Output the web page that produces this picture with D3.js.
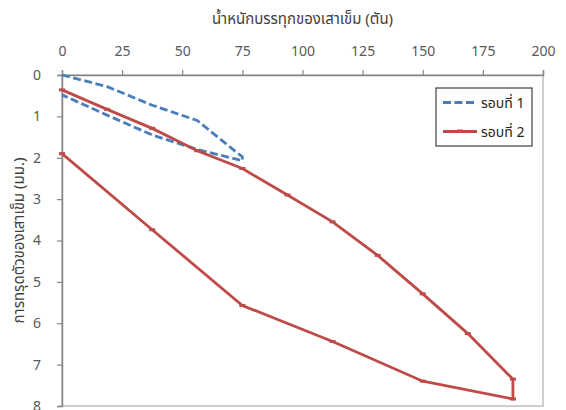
<!DOCTYPE html>
<html>
<head>
<meta charset="utf-8">
<script src="https://cdn.jsdelivr.net/npm/d3@7/dist/d3.min.js"></script>
<style>
  html, body { margin: 0; padding: 0; background: #fff; }
  svg { display: block; font-family: Tahoma, "Noto Sans Thai", "Noto Sans", "DejaVu Sans", sans-serif; }
</style>
</head>
<body>
<svg id="chart" width="566" height="410"></svg>
<script>
// Pile load test: load (tonnes) vs settlement (mm), two load cycles
const xTicks = [0, 25, 50, 75, 100, 125, 150, 175, 200];
const yTicks = [0, 1, 2, 3, 4, 5, 6, 7, 8];

const loadCycle1 = [0, 18.75, 37.5, 56.25, 75, 75, 56.25, 37.5, 18.75, 0];
const settleCycle1 = [0, 0.28, 0.73, 1.1, 1.98, 2.07, 1.8, 1.45, 0.97, 0.48];

const loadCycle2 = [0, 18.75, 37.5, 56.25, 75, 93.75, 112.5, 131.25, 150, 168.75, 187.5, 187.5, 150, 112.5, 75, 37.5, 0];
const settleCycle2 = [0.36, 0.83, 1.29, 1.83, 2.26, 2.9, 3.55, 4.36, 5.29, 6.25, 7.35, 7.83, 7.4, 6.44, 5.57, 3.74, 1.9];

const seriesNames = ["รอบที่ 1", "รอบที่ 2"];
const xTitle = "น้ำหนักบรรทุกของเสาเข็ม (ตัน)";
const yTitle = "การทรุดตัวของเสาเข็ม (มม.)";

const svg = d3.select("#chart");
const plot = { left: 62, right: 543, top: 75, bottom: 406 };

const x = d3.scaleLinear().domain([0, 200]).range([plot.left, plot.right]);
const y = d3.scaleLinear().domain([0, 8]).range([plot.top, plot.bottom]);

// plot-area frame
svg.append("rect")
  .attr("x", plot.left).attr("y", plot.top)
  .attr("width", plot.right - plot.left).attr("height", plot.bottom - plot.top)
  .attr("fill", "none").attr("stroke", "#bfbfbf").attr("stroke-width", 1.5);

// top x axis
const gx = svg.append("g")
  .attr("transform", `translate(0,${plot.top})`)
  .call(d3.axisTop(x).tickValues(xTicks).tickSize(5).tickPadding(14).tickFormat(d3.format("d")));

// left y axis (settlement increases downward)
const gy = svg.append("g")
  .attr("transform", `translate(${plot.left},0)`)
  .call(d3.axisLeft(y).tickValues(yTicks).tickSize(5).tickPadding(16).tickFormat(d3.format("d")));

[gx, gy].forEach(g => {
  g.select(".domain").attr("stroke", "#868686").attr("stroke-width", 1.5);
  g.selectAll(".tick line").attr("stroke", "#868686").attr("stroke-width", 1.2);
  g.selectAll(".tick text").attr("fill", "#595959").style("font-size", "14px")
    .style("font-family", "Tahoma, 'Noto Sans', 'DejaVu Sans', sans-serif");
});

// axis titles
svg.append("text")
  .attr("x", (plot.left + plot.right) / 2).attr("y", 24)
  .attr("text-anchor", "middle").attr("fill", "#404040").style("font-size", "15px")
  .text(xTitle);

svg.append("text")
  .attr("transform", `translate(24,${(plot.top + plot.bottom) / 2}) rotate(-90)`)
  .attr("text-anchor", "middle").attr("fill", "#404040").style("font-size", "15px")
  .text(yTitle);

const line = d3.line().x(d => x(d[0])).y(d => y(d[1]));

const cycle1 = loadCycle1.map((v, i) => [v, settleCycle1[i]]);
const cycle2 = loadCycle2.map((v, i) => [v, settleCycle2[i]]);

const blue = "#4a7ebb";
const red = "#be4b48";

const g = svg.append("g");

g.append("path").datum(cycle1)
  .attr("d", line).attr("fill", "none")
  .attr("stroke", blue).attr("stroke-width", 2.8)
  .attr("stroke-dasharray", "8,3.5").attr("stroke-linejoin", "round");

g.append("path").datum(cycle2)
  .attr("d", line).attr("fill", "none")
  .attr("stroke", red).attr("stroke-width", 2.8).attr("stroke-linejoin", "miter");

// dash markers on the second cycle
g.selectAll(".mk").data(cycle2).enter().append("line")
  .attr("x1", d => x(d[0]) - 3).attr("x2", d => x(d[0]) + 3)
  .attr("y1", d => y(d[1])).attr("y2", d => y(d[1]))
  .attr("stroke", red).attr("stroke-width", 3);

// legend
const lg = svg.append("g");
lg.append("rect").attr("x", 436).attr("y", 88).attr("width", 96).attr("height", 58)
  .attr("fill", "#fff").attr("stroke", "#404040").attr("stroke-width", 1.2);

lg.append("line").attr("x1", 443).attr("x2", 476).attr("y1", 102.5).attr("y2", 102.5)
  .attr("stroke", blue).attr("stroke-width", 2.8).attr("stroke-dasharray", "8,3.5");
lg.append("line").attr("x1", 443).attr("x2", 477).attr("y1", 131.5).attr("y2", 131.5)
  .attr("stroke", red).attr("stroke-width", 2.8);
lg.append("line").attr("x1", 457).attr("x2", 463).attr("y1", 131).attr("y2", 131)
  .attr("stroke", red).attr("stroke-width", 3);

lg.selectAll(".lt").data(seriesNames).enter().append("text")
  .attr("x", 481).attr("y", (d, i) => 107.5 + i * 29)
  .attr("fill", "#262626").style("font-size", "14px")
  .text(d => d);
</script>
</body>
</html>
